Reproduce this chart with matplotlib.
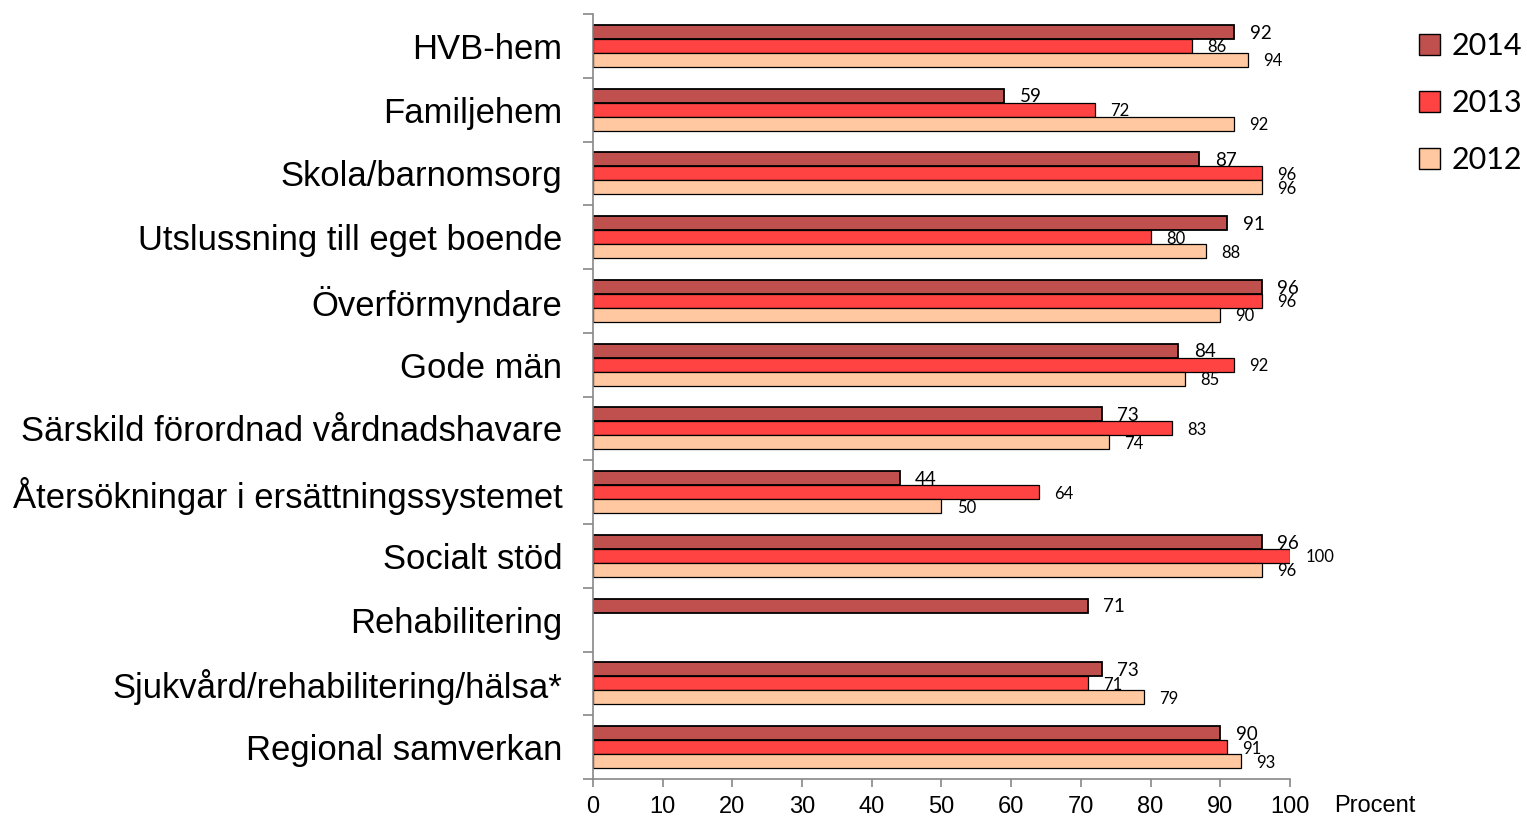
import numpy as np
import matplotlib.pyplot as plt
from matplotlib.patches import Patch

categories = ["HVB-hem", "Familjehem", "Skola/barnomsorg", "Utslussning till eget boende",
              "Överförmyndare", "Gode män", "Särskild förordnad vårdnadshavare",
              "Återsökningar i ersättningssystemet", "Socialt stöd", "Rehabilitering",
              "Sjukvård/rehabilitering/hälsa*", "Regional samverkan"]
v2014 = [92, 59, 87, 91, 96, 84, 73, 44, 96, 71, 73, 90]
v2013 = [86, 72, 96, 80, 96, 92, 83, 64, 100, None, 71, 91]
v2012 = [94, 92, 96, 88, 90, 85, 74, 50, 96, None, 79, 93]
years = ["2014", "2013", "2012"]
colors = ["#C0504D", "#FF4343", "#FFC8A0"]

fig = plt.figure(figsize=(15.27, 8.16), dpi=100)
ax = fig.add_axes([593/1527, 1-779/816, (1290-593)/1527, (779-14)/816])

h = 0.22
y = np.arange(len(categories))
series = [v2014, v2013, v2012]
for k, (vals, col) in enumerate(zip(series, colors)):
    off = (k - 1) * h
    for i, v in enumerate(vals):
        if v is None:
            continue
        ax.barh(y[i] + off, v, height=h, color=col, edgecolor="black",
                linewidth=1.3 if k == 0 else 0.9)
        ax.annotate(str(v), (v, y[i] + off), xytext=(11, -1),
                    textcoords="offset points", va="center", ha="left",
                    fontsize=13.5 if k == 0 else 12, family="Lato")

ax.set_xlim(0, 100)
ax.set_ylim(len(categories) - 0.5, -0.5)
ax.set_xticks(np.arange(0, 101, 10))
ax.set_yticks(y, categories)
ax.set_yticks(np.arange(len(categories) + 1) - 0.5, minor=True)
ax.tick_params(axis="y", which="major", length=0, pad=22, labelsize=24.9)
ax.tick_params(axis="y", which="minor", length=7, color="#888888", width=1.2)
ax.tick_params(axis="x", length=6, color="#888888", width=1.2, labelsize=17, pad=6)
for lab in ax.get_yticklabels():
    lab.set_family("Liberation Sans")
for lab in ax.get_xticklabels():
    lab.set_family("Liberation Sans")
for s in ["top", "right"]:
    ax.spines[s].set_visible(False)
for s in ["left", "bottom"]:
    ax.spines[s].set_color("#888888")
    ax.spines[s].set_linewidth(1.2)

fig.text(1334/1527, 1-806/816, "Procent", fontsize=17, family="Liberation Sans",
         va="center", ha="left")

handles = [Patch(facecolor=c, edgecolor="black", linewidth=1) for c in colors]
fig.legend(handles, years, loc="upper left", bbox_to_anchor=(1419/1527, 1-32/816),
           frameon=False, prop={"family": "Lato", "size": 22}, borderpad=0, borderaxespad=0,
           handlelength=0.68, handleheight=0.68, handletextpad=0.4, labelspacing=0.95)

fig.savefig("out.png", dpi=100)
